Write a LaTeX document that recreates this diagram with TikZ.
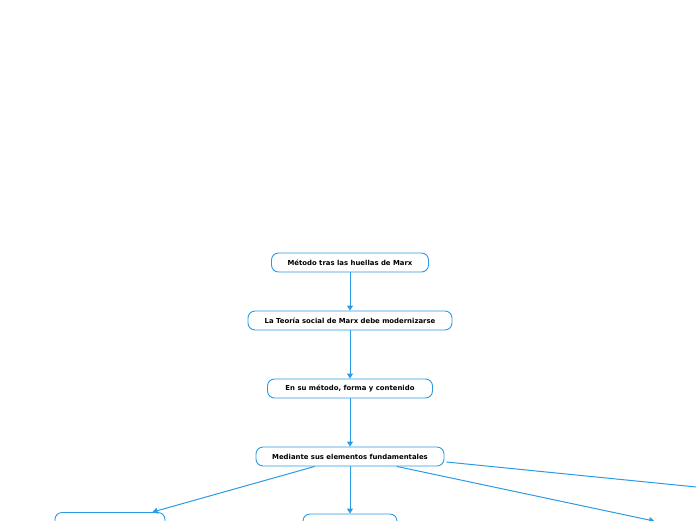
\documentclass[tikz,border=0pt]{standalone}
\usepackage{fontspec}
\setmainfont{DejaVu Sans}
\usetikzlibrary{arrows.meta}
\definecolor{mmblue}{HTML}{2B9BE3}
\begin{document}
\begin{tikzpicture}[x=1pt,y=-1pt,
  box/.style={draw=mmblue, line width=0.9pt, rounded corners=7pt, fill=white,
    minimum height=19pt, inner sep=0pt, text=black,
    font=\fontsize{6.9}{8}\selectfont\bfseries},
  conn/.style={draw=mmblue, line width=1pt, -{Triangle[width=6pt,length=5pt]}}]
\useasboundingbox (0,0) rectangle (696,520);
\clip (0,0) rectangle (696,520);
\node[box, minimum width=157pt] (n1) at (350,262.5) {Método tras las huellas de Marx};
\node[box, minimum width=204pt] (n2) at (350,320.5) {La Teoría social de Marx debe modernizarse};
\node[box, minimum width=165pt] (n3) at (350,388.5) {En su método, forma y contenido};
\node[box, minimum width=188pt] (n4) at (350,456.5) {Mediante sus elementos fundamentales};
\node[box, minimum width=110pt, minimum height=23pt] (b1) at (110,524) {};
\node[box, minimum width=94pt, minimum height=22pt] (b2) at (350,525) {};
\node[box, minimum width=100pt] (b3) at (701,531) {};
\coordinate (b4) at (796,497);
\draw[conn] (n1) -- (n2);
\draw[conn] (n2) -- (n3);
\draw[conn] (n3) -- (n4);
\draw[conn] (n4) -- (b1);
\draw[conn] (n4) -- (b2);
\draw[conn] (n4) -- (b3);
\draw[conn] ([xshift=2pt,yshift=-5.5pt]n4.east) -- (b4);
\end{tikzpicture}
\end{document}
